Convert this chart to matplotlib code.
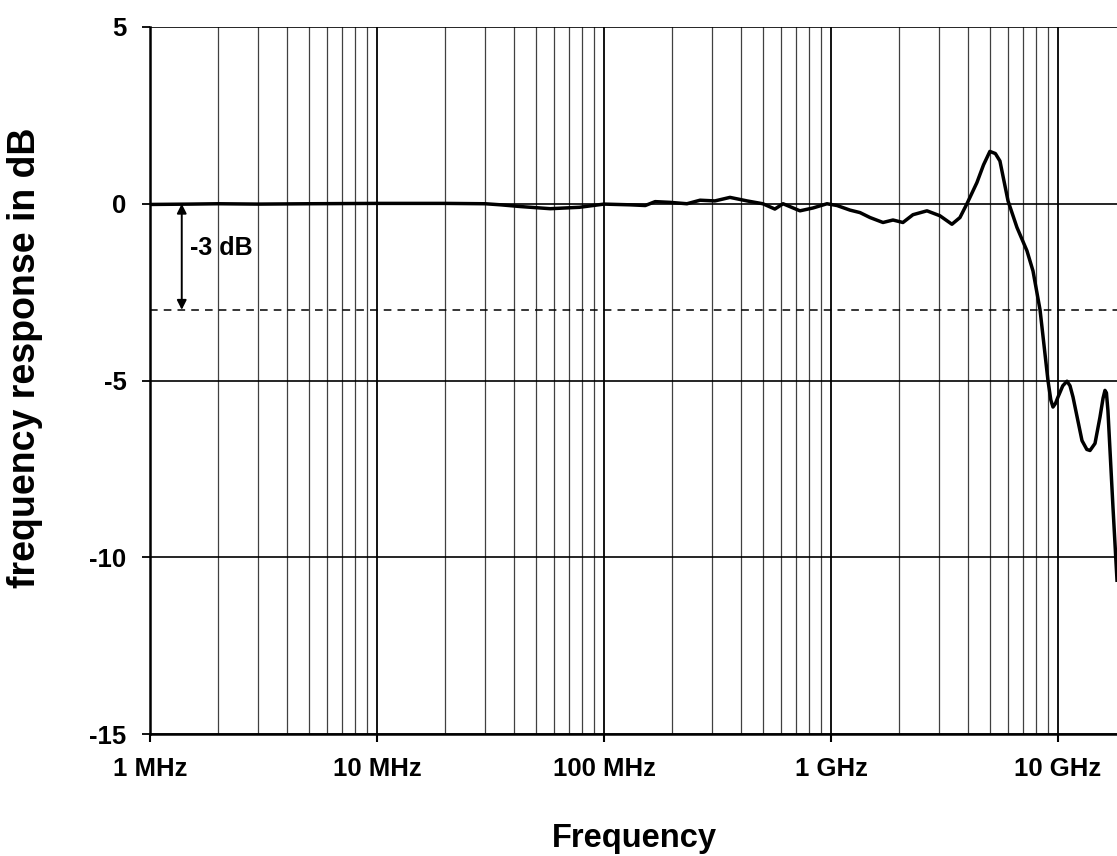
import matplotlib
matplotlib.use("Agg")
import matplotlib.pyplot as plt
from matplotlib.ticker import FixedLocator, NullFormatter, LogLocator

plt.rcParams['font.family'] = ['Liberation Sans', 'DejaVu Sans']
plt.rcParams['font.weight'] = 'bold'

# ---- data ----
freq_mhz = [1, 1.5, 2, 3, 5, 10, 20, 30, 35, 43, 58, 78, 100, 130, 152, 168,
            195, 232, 265, 308, 359, 427, 501, 566, 615, 730, 833, 960, 1063,
            1213, 1342, 1486, 1695, 1876, 2075, 2297, 2648, 3020, 3411, 3700,
            3972, 4395, 4700, 5012, 5300, 5550, 6026, 6597, 7300, 7762, 8337,
            9036, 9300, 9506, 9750, 10000, 10500, 10960, 11300, 11650, 12760,
            13400, 13840, 14560, 15310, 15800, 16110, 16350, 16600, 17470, 18200]
response_db = [-0.02, -0.01, 0.0, -0.01, 0.0, 0.01, 0.01, 0.0, -0.03, -0.08,
               -0.14, -0.1, -0.01, -0.03, -0.05, 0.06, 0.04, 0.0, 0.1, 0.08,
               0.18, 0.08, 0.0, -0.15, 0.0, -0.2, -0.12, 0.0, -0.05, -0.18,
               -0.25, -0.39, -0.53, -0.46, -0.53, -0.31, -0.2, -0.34, -0.58,
               -0.39, 0.0, 0.6, 1.1, 1.48, 1.42, 1.21, 0.08, -0.67, -1.33,
               -1.9, -3.0, -5.0, -5.55, -5.75, -5.65, -5.47, -5.15, -5.02,
               -5.15, -5.47, -6.7, -6.95, -6.98, -6.78, -6.04, -5.5, -5.28,
               -5.35, -5.85, -8.58, -10.65]

xtick_mhz = [1, 10, 100, 1000, 10000]
xtick_labels = ['1 MHz', '10 MHz', '100 MHz', '1 GHz', '10 GHz']
ytick_vals = [5, 0, -5, -10, -15]
ytick_labels = ['5', '0', '-5', '-10', '-15']
ref_level_db = -3
annot_text = '-3 dB'

# ---- figure ----
W, H = 1117, 856
fig = plt.figure(figsize=(W / 100, H / 100), dpi=100)
left, right, top, bottom = 150, 1117, 27, 734
ax = fig.add_axes([left / W, 1 - bottom / H, (right - left) / W, (bottom - top) / H])

freq_hz = [f * 1e6 for f in freq_mhz]
ax.set_xscale('log')
ax.set_xlim(1e6, 18.2e9)
ax.set_ylim(-15, 5)

# grid
ax.xaxis.set_major_locator(FixedLocator([f * 1e6 for f in xtick_mhz]))
ax.xaxis.set_minor_locator(LogLocator(base=10, subs=range(2, 10)))
ax.xaxis.set_minor_formatter(NullFormatter())
ax.set_xticklabels(xtick_labels)
ax.set_yticks(ytick_vals)
ax.set_yticklabels(ytick_labels)
ax.grid(which='major', axis='x', color='black', linewidth=1.3)
ax.grid(which='minor', axis='x', color='#404040', linewidth=0.9)
ax.grid(which='major', axis='y', color='black', linewidth=1.2)
ax.set_axisbelow(True)

ax.tick_params(axis='x', which='major', direction='out', length=6, width=1.5,
               labelsize=18.5, pad=10.5)
ax.tick_params(axis='x', which='minor', length=0)
ax.tick_params(axis='y', which='major', direction='out', length=6, width=1.3,
               labelsize=18.5, pad=11)
for lab in ax.get_xticklabels() + ax.get_yticklabels():
    lab.set_fontweight('bold')

for s in ['top', 'right']:
    ax.spines[s].set_visible(False)
ax.spines['left'].set_linewidth(1.8)
ax.spines['bottom'].set_linewidth(1.8)

# -3 dB reference
ax.axhline(ref_level_db, color='black', linestyle=(0, (5, 4)), linewidth=1.1, zorder=2)

# curve
ax.plot(freq_hz, response_db, color='black', linewidth=2.5, zorder=4,
        solid_joinstyle='round', clip_on=True)

# arrow annotation
ax.annotate('', xy=(1.38e6, ref_level_db), xytext=(1.38e6, 0),
            arrowprops=dict(arrowstyle='<|-|>', color='black', lw=1.4,
                            mutation_scale=14, shrinkA=0, shrinkB=0), zorder=5)
ax.text(1.5e6, -1.24, annot_text, fontsize=18, fontweight='bold',
        va='center', ha='left', zorder=5)

# labels
fig.text(634 / W, 1 - 838 / H, 'Frequency', fontsize=23.5, fontweight='bold',
         ha='center', va='center')
fig.text(25 / W, 1 - 358 / H, 'frequency response in dB', fontsize=27,
         fontweight='bold', ha='center', va='center', rotation=90)

fig.savefig('out.png', dpi=100)
